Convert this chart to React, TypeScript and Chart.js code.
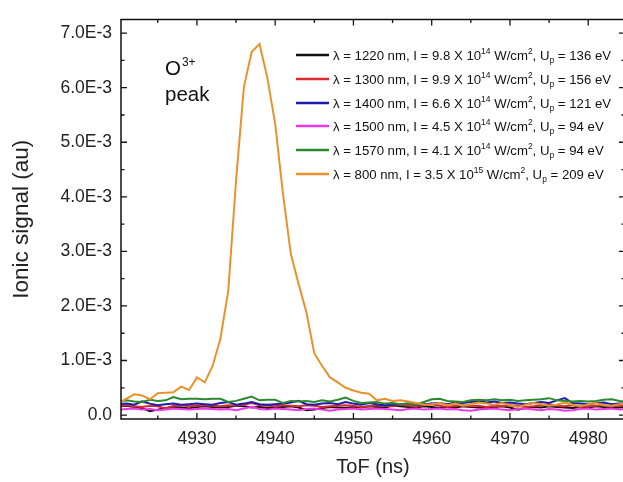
import React, { useEffect, useRef } from "react";
import { Chart, registerables } from "chart.js";

Chart.register(...registerables);

// Time of flight (ns)
const TOF = [
  4920, 4921, 4922, 4923, 4924, 4925, 4926, 4927, 4928, 4929,
  4930, 4931, 4932, 4933, 4934, 4935, 4936, 4937, 4938, 4939,
  4940, 4941, 4942, 4943, 4944, 4945, 4946, 4947, 4948, 4949,
  4950, 4951, 4952, 4953, 4954, 4955, 4956, 4957, 4958, 4959,
  4960, 4961, 4962, 4963, 4964, 4965, 4966, 4967, 4968, 4969,
  4970, 4971, 4972, 4973, 4974, 4975, 4976, 4977, 4978, 4979,
  4980, 4981, 4982, 4983, 4984, 4985,
];

// Ionic signal values, in units of 1E-3 au
const S1220 = [
  0.16, 0.17, 0.15, 0.13, 0.07, 0.10, 0.13, 0.15, 0.14, 0.12,
  0.15, 0.16, 0.15, 0.14, 0.15, 0.17, 0.16, 0.14, 0.15, 0.13,
  0.14, 0.15, 0.16, 0.14, 0.09, 0.10, 0.13, 0.15, 0.14, 0.13,
  0.15, 0.14, 0.16, 0.15, 0.14, 0.17, 0.16, 0.15, 0.14, 0.16,
  0.15, 0.13, 0.15, 0.14, 0.16, 0.15, 0.14, 0.13, 0.15, 0.16,
  0.14, 0.10, 0.13, 0.15, 0.14, 0.16, 0.15, 0.14, 0.13, 0.15,
  0.14, 0.16, 0.15, 0.13, 0.14, 0.15,
];
const S1300 = [
  0.17, 0.18, 0.16, 0.15, 0.17, 0.16, 0.12, 0.17, 0.18, 0.16,
  0.17, 0.18, 0.17, 0.16, 0.18, 0.17, 0.19, 0.22, 0.18, 0.17,
  0.16, 0.18, 0.17, 0.16, 0.18, 0.17, 0.15, 0.16, 0.17, 0.18,
  0.17, 0.15, 0.16, 0.18, 0.17, 0.16, 0.19, 0.17, 0.16, 0.18,
  0.20, 0.17, 0.15, 0.17, 0.18, 0.16, 0.17, 0.15, 0.17, 0.16,
  0.18, 0.17, 0.15, 0.16, 0.18, 0.20, 0.17, 0.16, 0.18, 0.15,
  0.16, 0.17, 0.18, 0.16, 0.17, 0.18,
];
const S1400 = [
  0.20, 0.21, 0.19, 0.25, 0.21, 0.18, 0.20, 0.21, 0.19, 0.20,
  0.21, 0.20, 0.19, 0.22, 0.24, 0.19, 0.21, 0.24, 0.20, 0.19,
  0.20, 0.21, 0.23, 0.26, 0.20, 0.19, 0.21, 0.22, 0.20, 0.24,
  0.21, 0.19, 0.22, 0.20, 0.18, 0.19, 0.20, 0.21, 0.19, 0.20,
  0.21, 0.22, 0.20, 0.23, 0.22, 0.24, 0.26, 0.23, 0.25, 0.22,
  0.23, 0.21, 0.20, 0.22, 0.24, 0.22, 0.27, 0.31, 0.22, 0.21,
  0.20, 0.22, 0.23, 0.20, 0.21, 0.22,
];
const S1500 = [
  0.10, 0.11, 0.12, 0.10, 0.11, 0.09, 0.10, 0.12, 0.11, 0.10,
  0.11, 0.12, 0.11, 0.10, 0.11, 0.09, 0.12, 0.15, 0.11, 0.10,
  0.12, 0.11, 0.10, 0.09, 0.11, 0.12, 0.10, 0.08, 0.10, 0.11,
  0.12, 0.10, 0.11, 0.12, 0.11, 0.10, 0.09, 0.11, 0.12, 0.10,
  0.11, 0.12, 0.10, 0.11, 0.09, 0.08, 0.10, 0.11, 0.12, 0.10,
  0.09, 0.11, 0.12, 0.10, 0.09, 0.11, 0.10, 0.08, 0.09, 0.11,
  0.12, 0.10, 0.11, 0.12, 0.10, 0.11,
];
const S1570 = [
  0.24, 0.27, 0.25, 0.24, 0.28, 0.26, 0.27, 0.33, 0.29, 0.30,
  0.30, 0.29, 0.30, 0.30, 0.24, 0.26, 0.30, 0.34, 0.27, 0.28,
  0.28, 0.22, 0.26, 0.25, 0.26, 0.24, 0.27, 0.25, 0.28, 0.32,
  0.26, 0.22, 0.23, 0.24, 0.21, 0.22, 0.20, 0.21, 0.19, 0.24,
  0.29, 0.30, 0.26, 0.25, 0.24, 0.27, 0.28, 0.27, 0.29, 0.27,
  0.28, 0.26, 0.27, 0.28, 0.29, 0.31, 0.27, 0.26, 0.25, 0.26,
  0.25, 0.26, 0.28, 0.29, 0.26, 0.25,
];
const S800 = [
  0.22, 0.30, 0.38, 0.36, 0.29, 0.40, 0.41, 0.42, 0.52, 0.46,
  0.69, 0.60, 0.90, 1.40, 2.27, 4.30, 6.01, 6.66, 6.80, 6.18,
  5.34, 4.05, 2.95, 2.40, 1.88, 1.13, 0.90, 0.69, 0.60, 0.50,
  0.45, 0.41, 0.39, 0.27, 0.30, 0.26, 0.27, 0.25, 0.22, 0.19,
  0.20, 0.22, 0.18, 0.21, 0.17, 0.20, 0.23, 0.21, 0.19, 0.22,
  0.18, 0.15, 0.19, 0.22, 0.20, 0.17, 0.19, 0.23, 0.19, 0.16,
  0.20, 0.22, 0.18, 0.17, 0.20, 0.21,
];
const VALUE_UNIT = 1e-3;

// Legend content
const WAVELENGTHS = ["1220", "1300", "1400", "1500", "1570", "800"];
const INTENSITIES = ["9.8", "9.9", "6.6", "4.5", "4.1", "3.5"];
const EXPONENTS = ["14", "14", "14", "14", "14", "15"];
const PONDERO = ["136", "156", "121", "94", "94", "209"];
const COLORS = ["#111111", "#dc2a2e", "#1c1cb4", "#e838e8", "#2b8a2b", "#e8922e"];
const SERIES = [S1220, S1300, S1400, S1500, S1570, S800];
const DRAW_ORDER = [5, 4, 3, 2, 1, 0];

// Axis ticks
const X_MAJOR = [4930, 4940, 4950, 4960, 4970, 4980];
const X_MINOR = [4925, 4935, 4945, 4955, 4965, 4975];
const Y_MAJOR = [0, 1e-3, 2e-3, 3e-3, 4e-3, 5e-3, 6e-3, 7e-3];
const Y_MINOR = [0.5e-3, 1.5e-3, 2.5e-3, 3.5e-3, 4.5e-3, 5.5e-3, 6.5e-3];

const FONT = "'Liberation Sans', Arial, sans-serif";

function fmtY(v: number): string {
  if (Math.abs(v) < 1e-12) return "0.0";
  return v.toExponential(1).toUpperCase();
}

const framePlugin = {
  id: "frameTicks",
  afterDatasetsDraw(chart: any) {
    const { ctx, chartArea: a, scales } = chart;
    const xs = scales.x;
    const ys = scales.y;
    ctx.save();
    ctx.strokeStyle = "#111";
    ctx.lineWidth = 1.5;
    ctx.beginPath();
    ctx.rect(a.left, a.top, a.right - a.left, a.bottom - a.top);
    ctx.stroke();
    ctx.lineWidth = 1.3;
    ctx.beginPath();
    const major = 6;
    const minor = 3.5;
    const tx = (v: number, len: number) => {
      const px = xs.getPixelForValue(v);
      ctx.moveTo(px, a.bottom);
      ctx.lineTo(px, a.bottom - len);
      ctx.moveTo(px, a.top);
      ctx.lineTo(px, a.top + len);
    };
    const ty = (v: number, len: number) => {
      const py = ys.getPixelForValue(v);
      ctx.moveTo(a.left, py);
      ctx.lineTo(a.left + len, py);
      ctx.moveTo(a.right, py);
      ctx.lineTo(a.right - len, py);
    };
    X_MAJOR.forEach((v) => tx(v, major));
    X_MINOR.forEach((v) => tx(v, minor));
    Y_MAJOR.forEach((v) => ty(v, major));
    Y_MINOR.forEach((v) => ty(v, minor));
    ctx.stroke();
    ctx.restore();
  },
  afterDraw(chart: any) {
    const { ctx } = chart;
    ctx.save();
    ctx.fillStyle = "#111";
    ctx.textBaseline = "alphabetic";
    // O3+ peak annotation
    ctx.font = `20.5px ${FONT}`;
    ctx.fillText("O", 165, 75);
    const ow = ctx.measureText("O").width;
    ctx.font = `12px ${FONT}`;
    ctx.fillText("3+", 165 + ow + 1, 66);
    ctx.font = `20.5px ${FONT}`;
    ctx.fillText("peak", 165, 101);

    // Legend
    const x0 = 296;
    const x1 = 329;
    const tx0 = 333;
    const rowY = [55, 79, 103, 126, 150, 174];
    const main = `13.2px ${FONT}`;
    const small = `8.5px ${FONT}`;
    for (let i = 0; i < WAVELENGTHS.length; i++) {
      const y = rowY[i];
      ctx.strokeStyle = COLORS[i];
      ctx.lineWidth = 2.5;
      ctx.beginPath();
      ctx.moveTo(x0, y);
      ctx.lineTo(x1, y);
      ctx.stroke();
      const base = y + 5;
      let x = tx0;
      const seg = (t: string, f: string, dy: number) => {
        ctx.font = f;
        ctx.fillText(t, x, base + dy);
        x += ctx.measureText(t).width;
      };
      seg(`\u03bb = ${WAVELENGTHS[i]} nm, I = ${INTENSITIES[i]} X 10`, main, 0);
      seg(EXPONENTS[i], small, -6);
      seg(" W/cm", main, 0);
      seg("2", small, -6);
      seg(", U", main, 0);
      seg("p", small, 3);
      seg(` = ${PONDERO[i]} eV`, main, 0);
    }
    ctx.restore();
  },
};

export default function App() {
  const ref = useRef<HTMLCanvasElement | null>(null);
  useEffect(() => {
    if (!ref.current) return;
    const datasets = SERIES.map((s, i) => ({
      label: `\u03bb = ${WAVELENGTHS[i]} nm`,
      data: TOF.map((t, k) => ({ x: t, y: s[k] * VALUE_UNIT })),
      borderColor: COLORS[i],
      backgroundColor: COLORS[i],
      borderWidth: 2,
      pointRadius: 0,
      tension: 0,
      order: DRAW_ORDER[i],
    }));
    const chart = new Chart(ref.current, {
      type: "line",
      data: { datasets },
      options: {
        animation: false,
        responsive: false,
        layout: { padding: { left: 0, top: 0, right: 5, bottom: 0 } },
        plugins: { legend: { display: false }, tooltip: { enabled: false } },
        scales: {
          x: {
            type: "linear",
            min: 4920.3,
            max: 4984.7,
            afterFit: (s: any) => {
              s.height = 63;
            },
            afterBuildTicks: (s: any) => {
              s.ticks = X_MAJOR.map((v) => ({ value: v }));
            },
            grid: { display: false, drawTicks: false, tickLength: 0 },
            border: { display: false },
            ticks: {
              padding: 10,
              maxRotation: 0,
              color: "#222",
              font: { family: FONT, size: 17.5 },
              callback: (v: any) => String(v),
            },
            title: {
              display: true,
              text: "ToF (ns)",
              color: "#222",
              font: { family: FONT, size: 20 },
              padding: { top: 0, bottom: 3 },
            },
          },
          y: {
            type: "linear",
            min: -0.072e-3,
            max: 7.25e-3,
            afterFit: (s: any) => {
              s.width = 121;
            },
            afterBuildTicks: (s: any) => {
              s.ticks = Y_MAJOR.map((v) => ({ value: v }));
            },
            grid: { display: false, drawTicks: false, tickLength: 0 },
            border: { display: false },
            ticks: {
              padding: 9,
              color: "#222",
              font: { family: FONT, size: 17.5 },
              callback: (v: any) => fmtY(Number(v)),
            },
            title: {
              display: true,
              text: "Ionic signal (au)",
              color: "#222",
              font: { family: FONT, size: 22.5 },
              padding: { top: 8, bottom: 0 },
            },
          },
        },
      },
      plugins: [framePlugin],
    } as any);
    return () => chart.destroy();
  }, []);
  return (
    <div
      style={{
        position: "absolute",
        left: 0,
        top: 0,
        width: 623,
        height: 482,
        overflow: "hidden",
        background: "#fff",
      }}
    >
      <canvas ref={ref} width={630} height={482} style={{ width: 630, height: 482, display: "block" }} />
    </div>
  );
}
